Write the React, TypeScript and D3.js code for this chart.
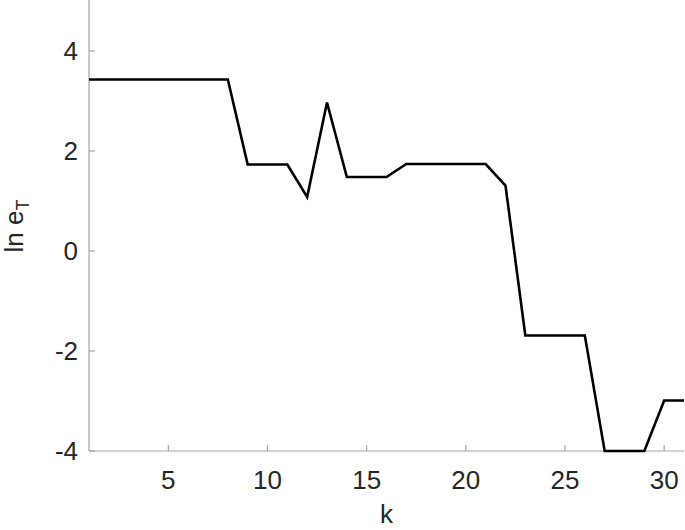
import React from "react";
import * as d3 from "d3";

const kValues = [
  1, 2, 3, 4, 5, 6, 7, 8, 9, 10, 11, 12, 13, 14, 15, 16, 17, 18, 19, 20, 21, 22,
  23, 24, 25, 26, 27, 28, 29, 30, 31,
];
const lnErr = [
  3.43, 3.43, 3.43, 3.43, 3.43, 3.43, 3.43, 3.43, 1.73, 1.73, 1.73, 1.08, 2.97,
  1.48, 1.48, 1.48, 1.74, 1.74, 1.74, 1.74, 1.74, 1.31, -1.69, -1.69, -1.69,
  -1.69, -4.0, -4.0, -4.0, -2.99, -2.99,
];
const xTicks = [5, 10, 15, 20, 25, 30];
const yTicks = [-4, -2, 0, 2, 4];

const W = 685;
const H = 530;
const left = 89;
const right = 684;
const top = 1;
const bottom = 451;

export default function App() {
  const x = d3.scaleLinear().domain([1, 31]).range([left, right]);
  const y = d3.scaleLinear().domain([-4, 5]).range([bottom, top]);
  const line = d3
    .line<number>()
    .x((_, i) => x(kValues[i]))
    .y((d) => y(d));
  const axisColor = "#a5a5a5";
  const textColor = "#262626";
  const font = "'Liberation Sans', Arial, Helvetica, sans-serif";
  return (
    <svg
      width={W}
      height={H}
      style={{ position: "absolute", left: 0, top: 0, background: "#fff" }}
      fontFamily={font}
    >
      <rect x={0} y={0} width={W} height={H} fill="#fff" />
      <line x1={left} x2={left} y1={0} y2={bottom} stroke={axisColor} strokeWidth={1.2} />
      <line x1={left} x2={right} y1={bottom} y2={bottom} stroke={axisColor} strokeWidth={1.2} />
      {xTicks.map((t) => (
        <g key={"x" + t}>
          <line x1={x(t)} x2={x(t)} y1={bottom} y2={bottom - 6} stroke={axisColor} strokeWidth={1.2} />
          <text x={x(t)} y={489} textAnchor="middle" fontSize={26} fill={textColor}>
            {t}
          </text>
        </g>
      ))}
      {yTicks.map((t) => (
        <g key={"y" + t}>
          <line x1={left} x2={left + 6} y1={y(t)} y2={y(t)} stroke={axisColor} strokeWidth={1.2} />
          <text
            x={78}
            y={y(t)}
            dy="0.36em"
            textAnchor="end"
            fontSize={26}
            fill={textColor}
          >
            {t}
          </text>
        </g>
      ))}
      <path d={line(lnErr) || ""} fill="none" stroke="#000" strokeWidth={2.6} strokeLinejoin="miter" />
      <text x={(left + right) / 2} y={523} textAnchor="middle" fontSize={26} fill={textColor}>
        k
      </text>
      <text
        transform={`translate(23, ${(top + bottom) / 2}) rotate(-90)`}
        textAnchor="middle"
        fontSize={26}
        fill={textColor}
      >
        ln e
        <tspan fontSize={18} dy={6}>
          T
        </tspan>
      </text>
    </svg>
  );
}
